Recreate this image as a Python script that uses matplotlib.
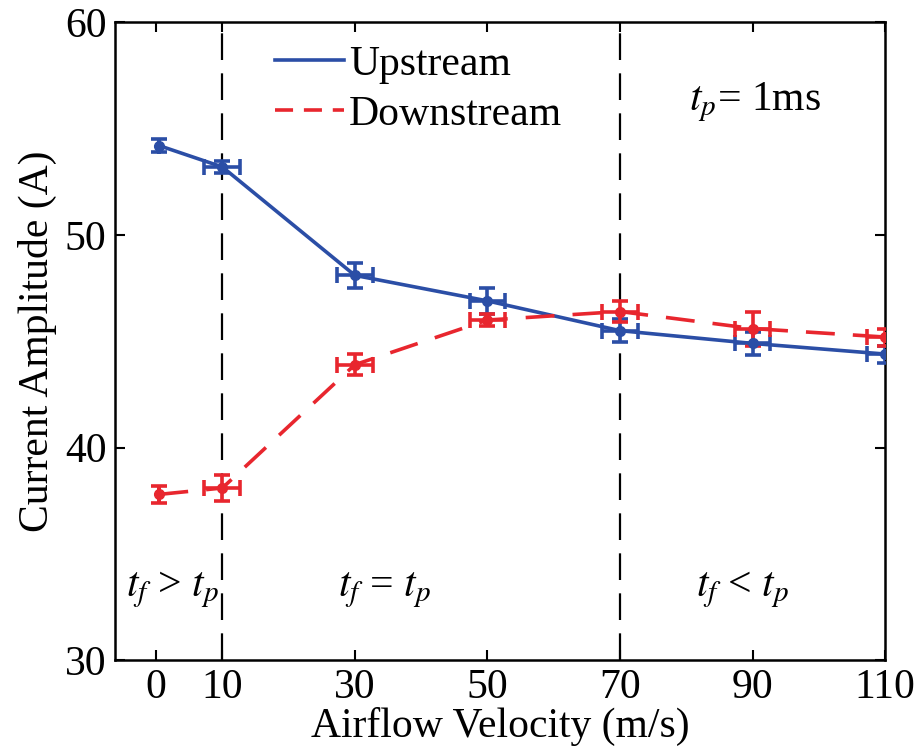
import matplotlib.pyplot as plt
from matplotlib.lines import Line2D

plt.rcParams['font.family'] = ['Liberation Serif', 'DejaVu Serif']
plt.rcParams['mathtext.fontset'] = 'stix'

velocity = [0.5, 10, 30, 50, 70, 90, 110]
up_amp = [54.2, 53.2, 48.1, 46.9, 45.5, 44.9, 44.4]
up_yerr = [0.3, 0.3, 0.6, 0.6, 0.55, 0.55, 0.4]
down_amp = [37.8, 38.1, 43.9, 46.0, 46.4, 45.6, 45.2]
down_yerr = [0.4, 0.6, 0.5, 0.3, 0.5, 0.8, 0.4]
xerr = [0.0, 2.7, 2.7, 2.7, 2.7, 2.7, 2.7]
xticks = [0, 10, 30, 50, 70, 90, 110]
yticks = [30, 40, 50, 60]

blue = '#2b4ea6'
red = '#e8262e'
fs = 30

fig = plt.figure(figsize=(9.2, 7.46), dpi=100)
ax = fig.add_axes([0.125, 0.115, 0.837, 0.855])

# region boundaries
for xv in [10, 70]:
    ax.axvline(xv, color='black', lw=1.6, dashes=(12, 6), zorder=1)

ax.errorbar(velocity, up_amp, yerr=up_yerr, xerr=xerr, color=blue, lw=2.6,
            marker='o', ms=7, capsize=6, elinewidth=2.6, capthick=2.6, zorder=3)
ax.errorbar(velocity, down_amp, yerr=down_yerr, xerr=xerr, color=red, lw=2.6,
            dashes=(8, 5), marker='o', ms=7, capsize=6, elinewidth=2.6,
            capthick=2.6, zorder=3)

handles = [Line2D([], [], color=blue, lw=2.6),
           Line2D([], [], color=red, lw=2.6, dashes=(5, 3))]
ax.legend(handles, ['Upstream', 'Downstream'], loc='upper left',
          bbox_to_anchor=(0.186, 0.99), frameon=False, fontsize=fs,
          handlelength=1.65, handletextpad=0.12, labelspacing=0.27,
          borderaxespad=0)

ax.text(0.745, 0.875, r'$t_p$= 1ms', transform=ax.transAxes, fontsize=fs,
        va='center', ha='left')
ax.text(-4.5, 33.3, r'$t_f$ > $t_p$', fontsize=fs, va='center', ha='left')
ax.text(27.5, 33.3, r'$t_f$ = $t_p$', fontsize=fs, va='center', ha='left')
ax.text(81.5, 33.3, r'$t_f$ < $t_p$', fontsize=fs, va='center', ha='left')

ax.set_xlim(-6.2, 110)
ax.set_ylim(30, 60)
ax.set_xticks(xticks)
ax.set_yticks(yticks)
ax.tick_params(direction='in', length=7, width=1.5, labelsize=fs,
               top=True, right=True, pad=6)
for s in ax.spines.values():
    s.set_linewidth(1.8)

ax.set_xlabel('Airflow Velocity (m/s)', fontsize=fs, labelpad=0)
ax.set_ylabel('Current Amplitude (A)', fontsize=fs, labelpad=6)

fig.savefig('out.png', dpi=100)
